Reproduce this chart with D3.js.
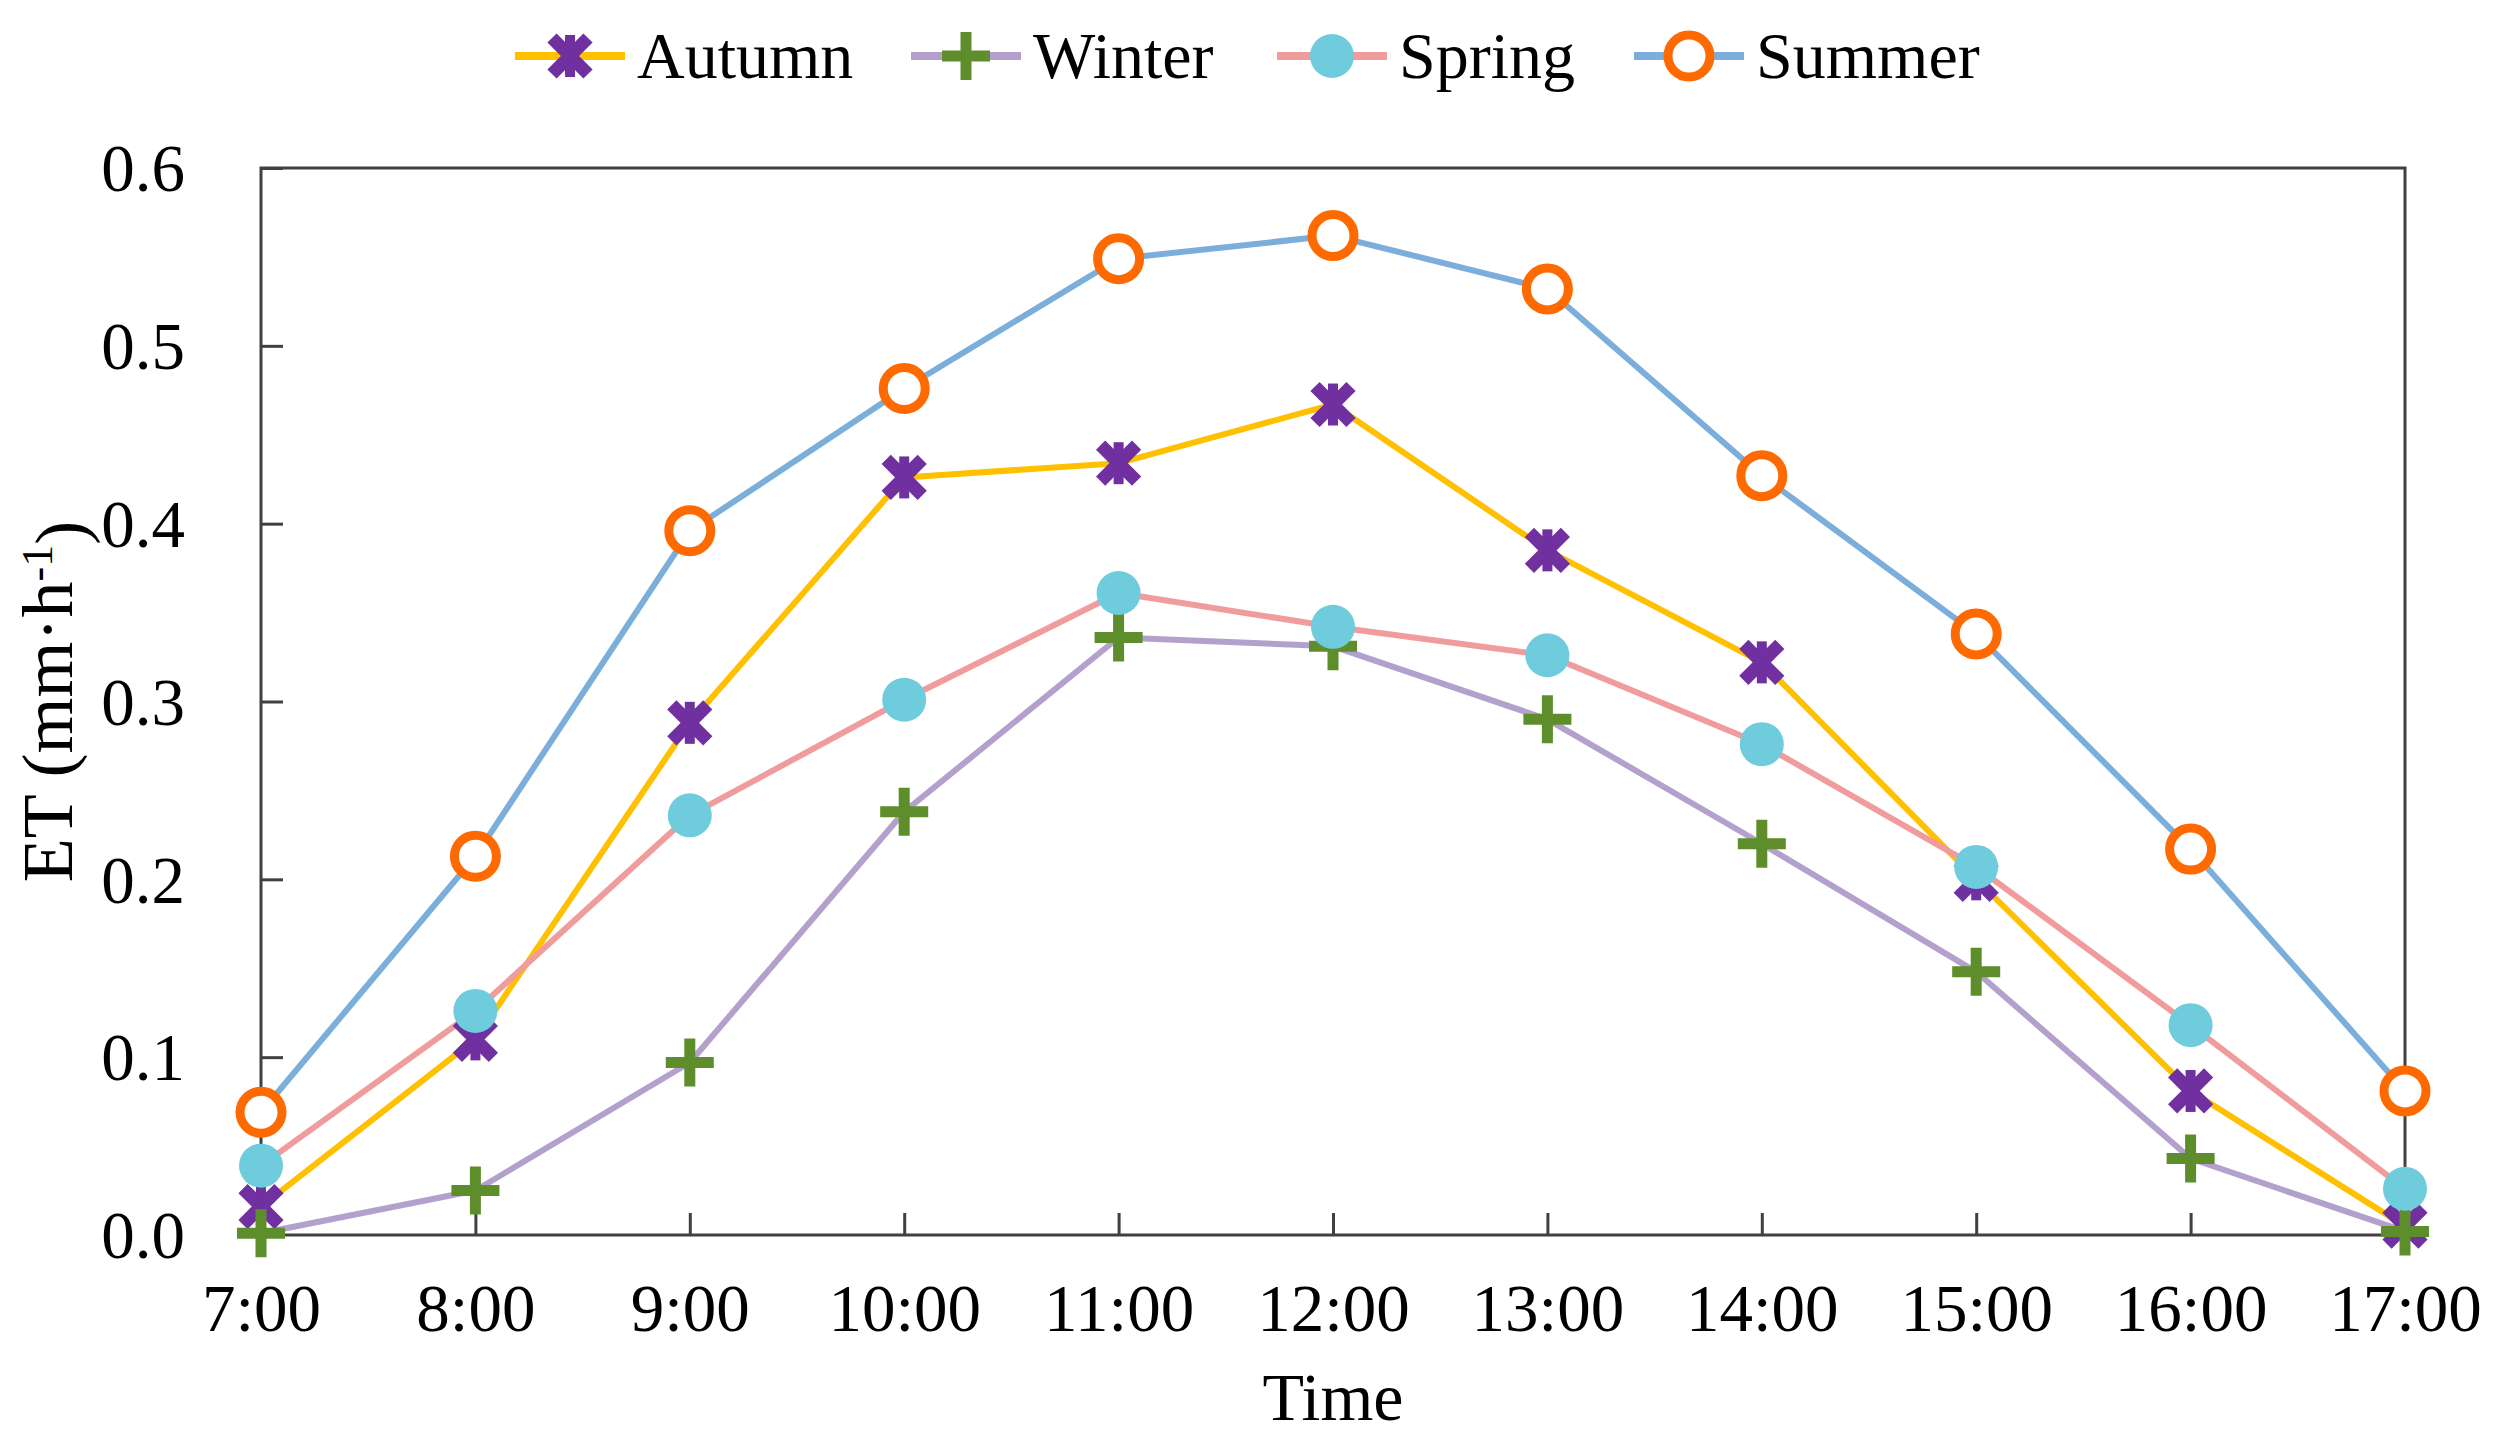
<!DOCTYPE html>
<html>
<head>
<meta charset="utf-8">
<script src="https://cdn.jsdelivr.net/npm/d3@7"></script>
<style>
  body { margin: 0; background: #fff; }
  svg text { font-family: "Liberation Serif", "Times New Roman", serif; fill: #000; }
</style>
</head>
<body>
<svg id="chart"></svg>
<script>
// hours along the x axis
const hours = ["7:00", "8:00", "9:00", "10:00", "11:00", "12:00", "13:00", "14:00", "15:00", "16:00", "17:00"];
const yTicks = [0, 0.1, 0.2, 0.3, 0.4, 0.5, 0.6];

// ET values (mm/h)
const autumn = [0.016, 0.110, 0.288, 0.426, 0.434, 0.467, 0.385, 0.322, 0.200, 0.081, 0.005];
const winter = [0.001, 0.025, 0.097, 0.238, 0.336, 0.331, 0.290, 0.220, 0.148, 0.043, 0.002];
const spring = [0.039, 0.126, 0.236, 0.301, 0.361, 0.342, 0.326, 0.276, 0.207, 0.118, 0.026];
const summer = [0.069, 0.213, 0.396, 0.476, 0.549, 0.562, 0.532, 0.427, 0.338, 0.217, 0.081];

const seriesNames = ["Autumn", "Winter", "Spring", "Summer"];
const seriesValues = [autumn, winter, spring, summer];
const lineColors = ["#FFC000", "#B4A0CC", "#F09C9C", "#7BAEDB"];
const markerColors = ["#7030A0", "#5E8E2C", "#6ECCDC", "#FF6A00"];
const markerTypes = ["star", "plus", "dot", "ring"];

const width = 2493, height = 1449;
const margin = { left: 261, right: 88, top: 168, bottom: 214 };

const svg = d3.select("#chart")
    .attr("width", width)
    .attr("height", height);

const x = d3.scalePoint()
    .domain(hours)
    .range([margin.left, width - margin.right]);

const y = d3.scaleLinear()
    .domain([0, 0.6])
    .range([height - margin.bottom, margin.top]);

// axes, ticks point inward
const xAxis = svg.append("g")
    .attr("transform", `translate(0,${height - margin.bottom})`)
    .call(d3.axisBottom(x).tickSize(-22));
xAxis.select(".domain").remove();
xAxis.selectAll("line").attr("stroke", "#404040").attr("stroke-width", 3);
xAxis.selectAll("text")
    .attr("y", 96).attr("dy", 0)
    .style("font-size", "67px");

const yAxis = svg.append("g")
    .attr("transform", `translate(${margin.left},0)`)
    .call(d3.axisLeft(y).tickValues(yTicks).tickFormat(d3.format(".1f")).tickSize(-22));
yAxis.select(".domain").remove();
yAxis.selectAll("line").attr("stroke", "#404040").attr("stroke-width", 3);
yAxis.selectAll("text")
    .attr("x", -76).attr("dy", "0.34em")
    .style("font-size", "67px");

// plot frame
svg.append("rect")
    .attr("x", margin.left)
    .attr("y", margin.top)
    .attr("width", width - margin.left - margin.right)
    .attr("height", height - margin.top - margin.bottom)
    .attr("fill", "none")
    .attr("stroke", "#404040")
    .attr("stroke-width", 3);

// axis titles
svg.append("text")
    .attr("x", (margin.left + width - margin.right) / 2)
    .attr("y", 1420)
    .attr("text-anchor", "middle")
    .style("font-size", "68px")
    .text("Time");

const yTitle = svg.append("text")
    .attr("transform", `translate(72,${(margin.top + height - margin.bottom) / 2}) rotate(-90)`)
    .attr("text-anchor", "middle")
    .style("font-size", "72px");
yTitle.append("tspan").text("ET (mm·h");
yTitle.append("tspan").attr("dy", "-0.45em").style("font-size", "44px").text("-1");
yTitle.append("tspan").attr("dy", "0.45em").text(")");

// marker drawing
function drawMarker(g, type, color) {
    if (type === "star") {
        const a = 18;
        g.append("path")
            .attr("d", `M${-a},${-a}L${a},${a}M${a},${-a}L${-a},${a}`)
            .attr("stroke", color).attr("stroke-width", 13).attr("fill", "none");
        g.append("path")
            .attr("d", "M0,-21L0,21")
            .attr("stroke", color).attr("stroke-width", 10);
    } else if (type === "plus") {
        const a = 24;
        g.append("path")
            .attr("d", `M${-a},0L${a},0M0,${-a}L0,${a}`)
            .attr("stroke", color).attr("stroke-width", 11).attr("fill", "none");
    } else if (type === "dot") {
        g.append("circle").attr("r", 22).attr("fill", color);
    } else {
        g.append("circle").attr("r", 21)
            .attr("fill", "#fff").attr("stroke", color).attr("stroke-width", 9);
    }
}

const line = d3.line()
    .x((d, i) => x(hours[i]))
    .y(d => y(d));

// lines first, then markers
seriesValues.forEach((vals, s) => {
    svg.append("path")
        .datum(vals)
        .attr("d", line)
        .attr("fill", "none")
        .attr("stroke", lineColors[s])
        .attr("stroke-width", 6)
        .attr("stroke-linejoin", "round");
});

seriesValues.forEach((vals, s) => {
    svg.append("g")
        .selectAll("g")
        .data(vals)
        .join("g")
        .attr("transform", (d, i) => `translate(${x(hours[i])},${y(d)})`)
        .each(function () { drawMarker(d3.select(this), markerTypes[s], markerColors[s]); });
});

// legend
const legendX = [570, 966, 1332, 1689];
const legend = svg.append("g");
seriesNames.forEach((name, s) => {
    const g = legend.append("g").attr("transform", `translate(${legendX[s]},56)`);
    g.append("line")
        .attr("x1", -55).attr("x2", 55)
        .attr("stroke", lineColors[s]).attr("stroke-width", 8);
    drawMarker(g, markerTypes[s], markerColors[s]);
    g.append("text")
        .attr("x", 67).attr("y", 22)
        .style("font-size", "66px")
        .text(name);
});
</script>
</body>
</html>
